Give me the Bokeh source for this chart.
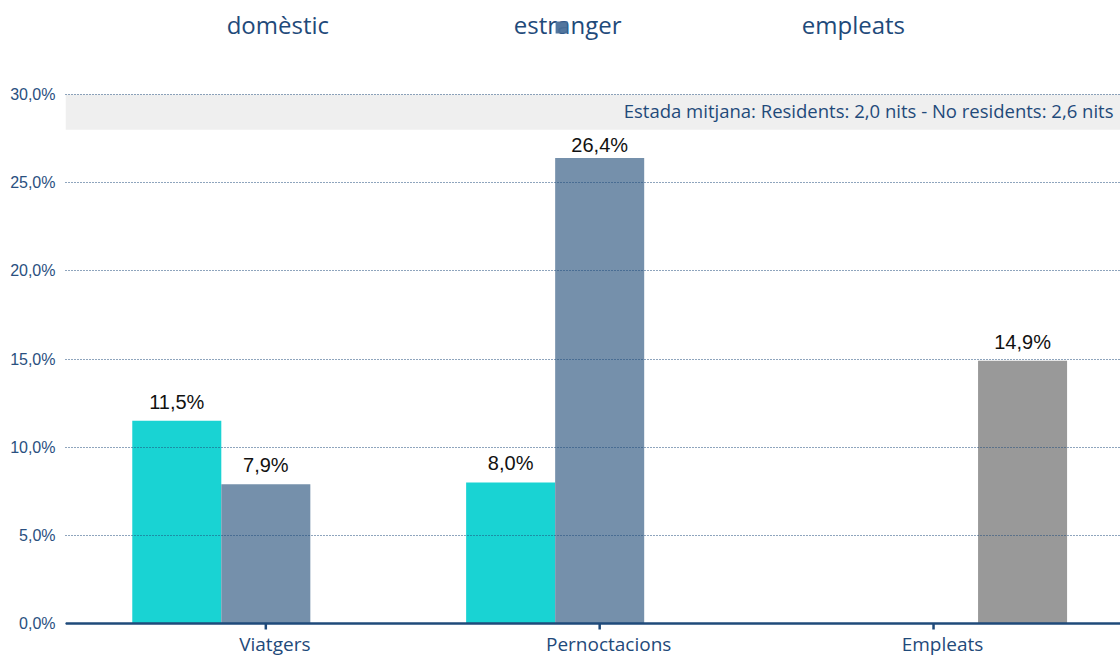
from bokeh.plotting import figure
from bokeh.models import Range1d, FixedTicker, ColumnDataSource, BoxAnnotation, Span
from bokeh.core.properties import value
from bokeh.embed import file_html
from bokeh.resources import INLINE

# ---- data ----
categories = ["Viatgers", "Pernoctacions", "Empleats"]
series = ["domèstic", "estranger", "empleats"]
domestic = [11.5, 8.0, None]
foreign = [7.9, 26.4, None]
employees = [None, None, 14.9]
y_ticks = [0, 5, 10, 15, 20, 25, 30]
y_tick_labels = ["0,0%", "5,0%", "10,0%", "15,0%", "20,0%", "25,0%", "30,0%"]
band_text = "Estada mitjana: Residents: 2,0 nits - No residents: 2,6 nits"
band_range = [28, 30]

# ---- style ----
colors = ["#19d3d3", "#7590ab", "#999999"]
navy = "#1f4a7a"
W, H = 1120, 656
left_border = 65
slot = 0.8 / 3
x_start, x_end = -0.6, 2.56
x_ppu = (W - left_border) / (x_end - x_start)
ppu = 17.633            # pixels per percentage point
zero_px = 623           # pixel row of the 0 line
y_end = zero_px / ppu
y_start = -(H - zero_px) / ppu


def px_to_y(px):
    return (zero_px - px) / ppu


p = figure(width=W, height=H, x_range=Range1d(x_start, x_end),
           y_range=Range1d(y_start, y_end), output_backend="svg", toolbar_location=None,
           x_axis_location=None,
           min_border_left=left_border, min_border_right=0, min_border_top=0,
           min_border_bottom=0)
p.outline_line_color = None
p.background_fill_color = "white"

# band
p.add_layout(BoxAnnotation(bottom=band_range[0], top=band_range[1], fill_color="#efefef",
                           fill_alpha=1.0, line_color=None, level="underlay"))
p.text(x=[2.539], y=[px_to_y(110)], text=[band_text],
       text_align="right", text_baseline="middle", text_font=value("Open Sans"),
       text_font_size="18.5px", text_color=navy)

# bars
for i, (vals, col) in enumerate(zip([domestic, foreign, employees], colors)):
    xs, ys, labs = [], [], []
    for j, v in enumerate(vals):
        if v is None:
            continue
        xs.append(j + (i - 1) * slot)
        ys.append(v)
        labs.append(f"{v:.1f}".replace(".", ",") + "%")
    label_y = [min(v + 19 / ppu, band_range[0] - 15 / ppu) for v in ys]
    src = ColumnDataSource(dict(x=xs, top=ys, lab=labs, ly=label_y))
    p.vbar(x="x", top="top", bottom=0, width=slot, source=src, fill_color=col,
           line_color=None)
    p.text(x="x", y="ly", text="lab", source=src, text_align="center",
           text_baseline="middle", text_font=value("Liberation Sans"),
           text_font_size="20px", text_color="#111111")

# legend (text only, as in the reference)
legend_x = [0.036, 0.904, 1.76]
p.text(x=legend_x, y=[px_to_y(24)] * 3, text=series, text_align="center",
       text_baseline="middle", text_font=value("Open Sans"), text_font_size="24px",
       text_color=navy)
p.scatter(x=[0.886], y=[px_to_y(27)], marker="square", size=12,
          fill_color="#4a6f99", line_color=None, fill_alpha=0.95)

# y axis
p.yaxis.ticker = FixedTicker(ticks=y_ticks)
p.yaxis.major_label_overrides = {t: l for t, l in zip(y_ticks, y_tick_labels)}
p.yaxis.axis_line_color = None
p.yaxis.major_tick_line_color = None
p.yaxis.minor_tick_line_color = None
p.yaxis.major_label_standoff = 4
p.yaxis.major_label_text_font = "Liberation Sans"
p.yaxis.major_label_text_font_size = "16px"
p.yaxis.major_label_text_color = "#2a5080"

p.xgrid.grid_line_color = None
p.ygrid.grid_line_color = navy
p.ygrid.grid_line_dash = "1 2"
p.ygrid.grid_line_width = 1
p.ygrid.level = "guide"

# category axis (baseline, ticks, labels)
p.add_layout(Span(location=0, dimension="width", line_color=navy, line_width=2.5))
cat_x = list(range(len(categories)))
p.segment(x0=cat_x, x1=cat_x, y0=[0] * 3, y1=[-6 / ppu] * 3, line_color=navy,
          line_width=2.5)
p.text(x=[c + 9 / x_ppu for c in cat_x], y=[px_to_y(643)] * 3, text=categories,
       text_align="center", text_baseline="middle", text_font=value("Open Sans"),
       text_font_size="19px", text_color=navy)

open("out.html", "w").write(file_html(p, INLINE))
